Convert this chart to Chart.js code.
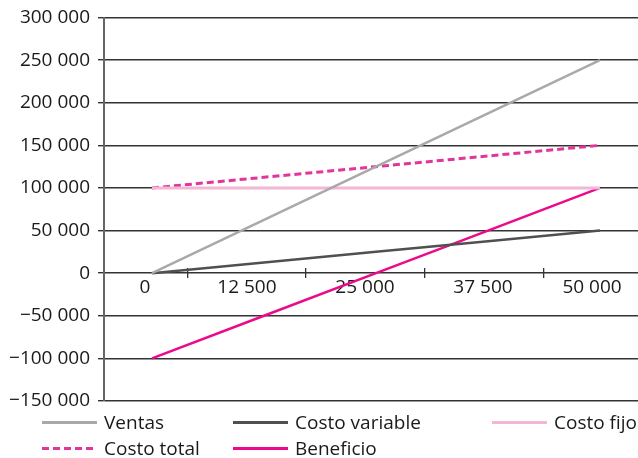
<!DOCTYPE html>
<html lang="es">
<head>
    <meta charset="UTF-8">
    <title>Punto de equilibrio</title>
    <script src="https://cdn.jsdelivr.net/npm/chart.js"></script>
    <style>
        body { margin: 0; background: #fff; font-family: "Open Sans", sans-serif; }
        #wrap { position: relative; width: 638px; height: 458px; }
        #legend { position: absolute; left: 0; top: 0; width: 638px; height: 458px; }
        .item { position: absolute; display: flex; align-items: center; height: 24px; font-size: 19px; color: #1a1a1a; white-space: nowrap; }
        .swatch { width: 55px; height: 3px; margin-right: 7px; }
    </style>
</head>
<body>
<div id="wrap">
    <canvas id="chart"></canvas>
    <div id="legend"></div>
</div>

<script>
    // units sold
    const units = [0, 12500, 25000, 37500, 50000];
    const xLabels = ['0', '12 500', '25 000', '37 500', '50 000'];

    const ventas = [0, 62500, 125000, 187500, 250000];
    const costoVariable = [0, 12500, 25000, 37500, 50000];
    const costoFijo = [100000, 100000, 100000, 100000, 100000];
    const costoTotal = [100000, 112500, 125000, 137500, 150000];
    const beneficio = [-100000, -50000, 0, 50000, 100000];

    const seriesNames = ['Ventas', 'Costo variable', 'Costo fijo', 'Costo total', 'Beneficio'];
    const seriesColors = ['#a9a9a9', '#505050', '#f4b6d4', '#e2359a', '#ec0a8c'];

    // layout of the original x axis (labels and tick marks do not sit on the data values)
    const xMin = -5357, xMax = 54241;
    const tickMarkAt = [4020, 17190, 30470, 43750];
    const labelAt = [-780, 10600, 23770, 36940, 49110];

    function fmt(v) {
        const s = Math.abs(v).toString().replace(/\B(?=(\d{3})+(?!\d))/g, ' ');
        return (v < 0 ? '\u2212' : '') + s;
    }

    const pts = arr => arr.map((v, i) => ({ x: units[i], y: v }));
    const allSeries = [ventas, costoVariable, costoFijo, costoTotal, beneficio];

    const datasets = allSeries.map((arr, i) => ({
        label: seriesNames[i],
        data: pts(arr),
        borderColor: seriesColors[i],
        borderWidth: i === 2 || i === 3 ? 3 : 2.5,
        borderDash: i === 3 ? [7, 4] : [],
        pointRadius: 0,
        fill: false,
        tension: 0
    }));

    const hiddenX = {
        type: 'linear', min: xMin, max: xMax,
        position: { y: 0 },
        border: { display: false }
    };

    new Chart(document.getElementById('chart'), {
        type: 'line',
        data: { datasets: datasets },
        options: {
            responsive: true,
            maintainAspectRatio: false,
            animation: false,
            layout: { padding: { top: 3, bottom: 57, left: 0, right: 0 } },
            plugins: { legend: { display: false }, tooltip: { enabled: false } },
            scales: {
                x: Object.assign({}, hiddenX, {
                    grid: { display: true, drawOnChartArea: false, drawTicks: true, tickLength: 5, color: '#333', lineWidth: 1.3 },
                    ticks: { display: false },
                    afterBuildTicks: s => { s.ticks = tickMarkAt.map(v => ({ value: v })); }
                }),
                xUp: Object.assign({}, hiddenX, {
                    grid: { display: true, drawOnChartArea: false, drawTicks: true, tickLength: -5, color: '#333', lineWidth: 1.3 },
                    ticks: { display: false },
                    afterBuildTicks: s => { s.ticks = tickMarkAt.map(v => ({ value: v })); }
                }),
                xLab: Object.assign({}, hiddenX, {
                    grid: { display: false, drawTicks: false },
                    ticks: {
                        padding: 3, color: '#1a1a1a', maxRotation: 0, autoSkip: false,
                        font: { family: 'Open Sans', size: 19 },
                        callback: (v, i) => xLabels[i]
                    },
                    afterBuildTicks: s => { s.ticks = labelAt.map(v => ({ value: v })); }
                }),
                y: {
                    min: -150000, max: 300000,
                    border: { color: '#666', width: 2 },
                    grid: { color: '#333', lineWidth: 1.4, tickLength: 6 },
                    ticks: {
                        stepSize: 50000, padding: 8, color: '#1a1a1a',
                        font: { family: 'Open Sans', size: 19, lineHeight: 1 },
                        callback: v => fmt(v)
                    },
                    afterFit: s => { s.width = 104; }
                }
            }
        }
    });

    // legend laid out like the original (3 columns, 2 rows)
    const legendPos = [[42, 410], [233, 410], [492, 410], [42, 436], [233, 436]];
    const legend = document.getElementById('legend');
    seriesNames.forEach((name, i) => {
        const it = document.createElement('div');
        it.className = 'item';
        it.style.left = legendPos[i][0] + 'px';
        it.style.top = legendPos[i][1] + 'px';
        const sw = document.createElement('span');
        sw.className = 'swatch';
        sw.style.background = i === 3
            ? `repeating-linear-gradient(to right, ${seriesColors[i]} 0 7px, transparent 7px 11px)`
            : seriesColors[i];
        it.appendChild(sw);
        it.appendChild(document.createTextNode(name));
        legend.appendChild(it);
    });
</script>
</body>
</html>
